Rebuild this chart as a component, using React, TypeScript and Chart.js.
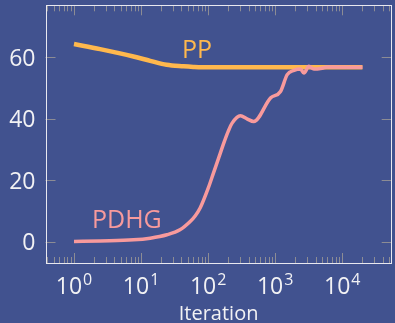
import React, { useEffect, useRef } from "react";
import { Chart, registerables } from "chart.js";

Chart.register(...registerables);

// ---- data ----
const ppIter = [1, 2.45, 7.7, 13.7, 24, 43, 60, 80, 300, 1000, 20000];
const ppVal = [64.4, 62.7, 60.3, 58.9, 57.6, 57.1, 56.9, 56.8, 56.8, 56.8, 56.8];

const pdhgIter = [1, 2.45, 7.7, 13.7, 24.3, 38, 54, 64, 76, 100, 120, 145, 171, 200, 228, 303, 380, 479, 851, 1200, 1510, 1910, 2390, 2680, 3180, 3775, 5000, 6000, 20000];
const pdhgVal = [0, 0.2, 0.55, 1.1, 2.2, 3.8, 6.5, 8.3, 10.9, 17.3, 22.3, 27.5, 32.1, 36, 38.6, 41, 40, 39.1, 46.8, 48.9, 54.4, 55.8, 56.2, 54.9, 57.1, 56.2, 56.5, 56.9, 56.8];

const seriesNames = ["PP", "PDHG"];
// annotation anchors in data coordinates (x iteration, y value at text baseline)
const labelIter = [68.2, 6.14];
const labelVal = [59.8, 4.4];

const yTicks = [0, 20, 40, 60];
const yTickLabels = ["0", "20", "40", "60"];
const xMajorTicks = [1, 10, 100, 1000, 10000];
const xMajorExp = ["0", "1", "2", "3", "4"];
const xTitle = "Iteration";

const X_MIN = 0.376;
const X_MAX = 54600;
const Y_MIN = -7;
const Y_MAX = 77;

const BG = "#41528f";
const PP_COLOR = "#ffb84d";
const PDHG_COLOR = "#f89a9c";
const TEXT = "#f2f2f4";
const TICK = "#8c8c94";
const FRAME = "#e8e8f0";
const FONT = "'Open Sans', 'DejaVu Sans', sans-serif";

const decorPlugin = {
  id: "decor",
  afterDraw(chart: any) {
    const ctx = chart.ctx;
    const a = chart.chartArea;
    const xs = chart.scales.x;
    const ys = chart.scales.y;
    ctx.save();

    // ticks
    ctx.strokeStyle = TICK;
    ctx.lineWidth = 1;
    const minor: number[] = [];
    for (let e = -1; e <= 4; e++) {
      for (let m = 2; m <= 9; m++) {
        const v = m * Math.pow(10, e);
        if (v > X_MIN && v < X_MAX) minor.push(v);
      }
    }
    ctx.beginPath();
    for (const v of minor) {
      const px = Math.round(xs.getPixelForValue(v)) + 0.5;
      ctx.moveTo(px, a.bottom);
      ctx.lineTo(px, a.bottom - 6);
      ctx.moveTo(px, a.top);
      ctx.lineTo(px, a.top + 6);
    }
    for (const v of xMajorTicks) {
      const px = Math.round(xs.getPixelForValue(v)) + 0.5;
      ctx.moveTo(px, a.bottom);
      ctx.lineTo(px, a.bottom - 10);
      ctx.moveTo(px, a.top);
      ctx.lineTo(px, a.top + 10);
    }
    for (const v of yTicks) {
      const py = Math.round(ys.getPixelForValue(v)) + 0.5;
      ctx.moveTo(a.left, py);
      ctx.lineTo(a.left + 10, py);
      ctx.moveTo(a.right, py);
      ctx.lineTo(a.right - 10, py);
    }
    ctx.stroke();

    // frame
    ctx.strokeStyle = FRAME;
    ctx.lineWidth = 1;
    ctx.strokeRect(Math.round(a.left) + 0.5, Math.round(a.top) + 0.5, Math.round(a.right - a.left) - 1, Math.round(a.bottom - a.top));

    // y labels
    ctx.fillStyle = TEXT;
    ctx.font = `23px ${FONT}`;
    ctx.textAlign = "right";
    ctx.textBaseline = "alphabetic";
    yTicks.forEach((v, i) => {
      const py = ys.getPixelForValue(v);
      ctx.fillText(yTickLabels[i], a.left - 10, py + 8.5);
    });

    // x labels with superscripts
    ctx.textAlign = "left";
    xMajorTicks.forEach((v, i) => {
      const px = xs.getPixelForValue(v);
      ctx.font = `23px ${FONT}`;
      const wb = ctx.measureText("10").width;
      ctx.font = `16px ${FONT}`;
      const we = ctx.measureText(xMajorExp[i]).width;
      const start = px - (wb + 1 + we) / 2;
      ctx.font = `23px ${FONT}`;
      ctx.fillText("10", start, 293.5);
      ctx.font = `16px ${FONT}`;
      ctx.fillText(xMajorExp[i], start + wb + 1, 285);
    });

    // axis title
    ctx.font = `20px ${FONT}`;
    ctx.textAlign = "center";
    ctx.fillText(xTitle, (a.left + a.right) / 2, 320);

    // series annotations
    ctx.font = `25px ${FONT}`;
    const cols = [PP_COLOR, PDHG_COLOR];
    seriesNames.forEach((n, i) => {
      ctx.fillStyle = cols[i];
      ctx.fillText(n, xs.getPixelForValue(labelIter[i]), ys.getPixelForValue(labelVal[i]));
    });

    ctx.restore();
  },
};

export default function App() {
  const ref = useRef<HTMLCanvasElement | null>(null);
  useEffect(() => {
    if (!ref.current) return;
    const chart = new Chart(ref.current, {
      type: "line",
      data: {
        datasets: [
          {
            label: seriesNames[1],
            data: pdhgIter.map((x, i) => ({ x, y: pdhgVal[i] })),
            borderColor: PDHG_COLOR,
            borderWidth: 3.5,
            pointRadius: 0,
            cubicInterpolationMode: "monotone",
            order: 0,
          },
          {
            label: seriesNames[0],
            data: ppIter.map((x, i) => ({ x, y: ppVal[i] })),
            borderColor: PP_COLOR,
            borderWidth: 4.5,
            pointRadius: 0,
            cubicInterpolationMode: "monotone",
            order: 1,
          },
        ],
      },
      options: {
        animation: false,
        responsive: true,
        maintainAspectRatio: false,
        layout: { padding: { top: 5.3, right: 3.3, left: 0, bottom: 0 } },
        plugins: { legend: { display: false }, tooltip: { enabled: false } },
        scales: {
          x: {
            type: "logarithmic",
            min: X_MIN,
            max: X_MAX,
            ticks: { display: false },
            grid: { display: false },
            border: { display: false },
            afterFit: (s: any) => {
              s.height = 60;
            },
          },
          y: {
            type: "linear",
            min: Y_MIN,
            max: Y_MAX,
            ticks: { display: false },
            grid: { display: false },
            border: { display: false },
            afterFit: (s: any) => {
              s.width = 45.5;
            },
          },
        },
      },
      plugins: [decorPlugin],
    } as any);
    return () => chart.destroy();
  }, []);
  return (
    <div style={{ position: "absolute", left: 0, top: 0, width: 395, height: 323, background: BG }}>
      <canvas ref={ref} />
    </div>
  );
}
